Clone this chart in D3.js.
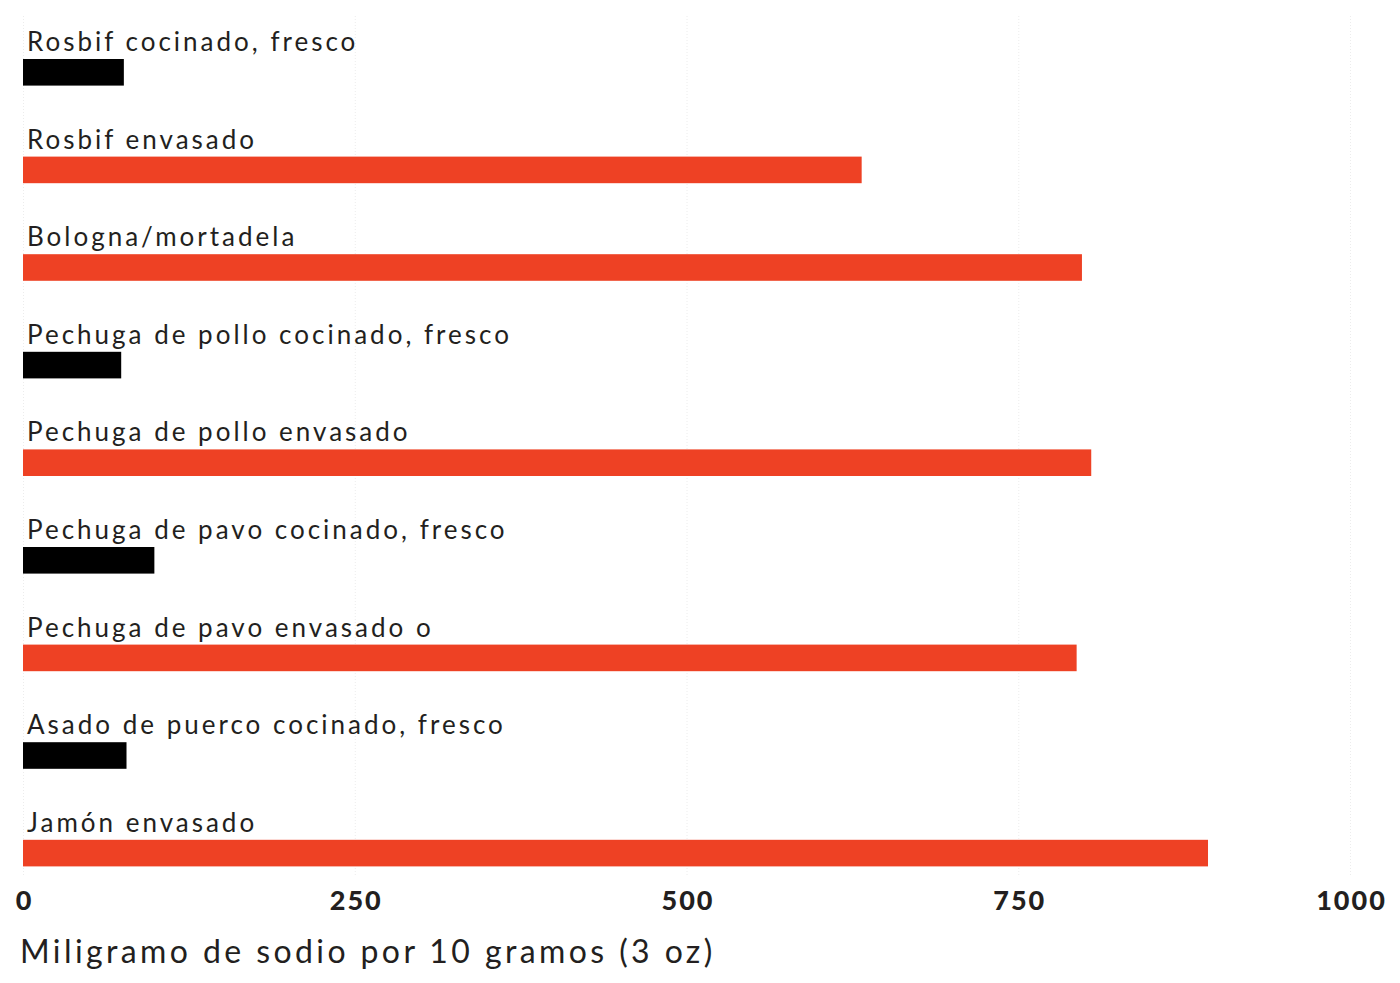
<!DOCTYPE html>
<html>
<head>
<meta charset="utf-8">
<script src="https://cdn.jsdelivr.net/npm/d3@7"></script>
<style>
  html, body { margin: 0; padding: 0; background: #fff; }
  svg { display: block; }
  .label { font-family: Lato, "Open Sans", sans-serif; font-size: 26px; fill: #231f20; letter-spacing: 3px; }
  .tick text { font-family: Lato, sans-serif; font-weight: 900; font-size: 27px; fill: #231f20; letter-spacing: 2px; }
  .title { font-family: Lato, "Open Sans", sans-serif; font-size: 32px; fill: #231f20; letter-spacing: 3.4px; }
</style>
</head>
<body>
<svg id="chart" width="1400" height="983"></svg>
<script>
// Sodium content of deli meats, fresh-cooked vs. packaged
const categories = [
  "Rosbif cocinado, fresco",
  "Rosbif envasado",
  "Bologna/mortadela",
  "Pechuga de pollo cocinado, fresco",
  "Pechuga de pollo envasado",
  "Pechuga de pavo cocinado, fresco",
  "Pechuga de pavo envasado o",
  "Asado de puerco cocinado, fresco",
  "Jamón envasado"
];
const sodium = [76, 632, 798, 74, 805, 99, 794, 78, 893];
const kinds = ["fresh", "packaged", "packaged", "fresh", "packaged", "fresh", "packaged", "fresh", "packaged"];
const tickValues = [0, 250, 500, 750, 1000];
const axisTitle = "Miligramo de sodio por 10 gramos (3 oz)";

const rows = categories.map((c, i) => ({ name: c, value: sodium[i], kind: kinds[i] }));

const svg = d3.select("#chart");

const x = d3.scaleLinear().domain([0, 1000]).range([23, 1350]);
const y = d3.scaleBand()
  .domain(categories)
  .range([59, 866.4])
  .paddingInner(0.7275)
  .paddingOuter(0);

const color = d3.scaleOrdinal()
  .domain(["fresh", "packaged"])
  .range(["#000000", "#ee4124"]);

// faint dotted gridlines
const grid = svg.append("g")
  .attr("transform", "translate(0,875)")
  .call(d3.axisTop(x).tickValues(tickValues).tickSize(860).tickFormat(""));
grid.select(".domain").remove();
grid.selectAll(".tick line")
  .attr("stroke", "#ececec")
  .attr("stroke-width", 1)
  .attr("stroke-dasharray", "1,2");

// bars
svg.append("g")
  .selectAll("rect")
  .data(rows)
  .join("rect")
  .attr("x", x(0))
  .attr("y", d => y(d.name))
  .attr("width", d => x(d.value) - x(0))
  .attr("height", y.bandwidth())
  .attr("fill", d => color(d.kind));

// category labels above each bar
svg.append("g")
  .selectAll("text")
  .data(rows)
  .join("text")
  .attr("class", "label")
  .attr("x", x(0) + 4)
  .attr("y", d => y(d.name) - 8)
  .text(d => d.name);

// x axis tick labels
const axis = svg.append("g")
  .attr("transform", "translate(0,880)")
  .call(d3.axisBottom(x).tickValues(tickValues).tickSize(0).tickPadding(0).tickFormat(d3.format("d")));
axis.select(".domain").remove();
axis.selectAll(".tick text").attr("dy", "0").attr("y", 30).attr("dx", "1px");

// axis title
svg.append("text")
  .attr("class", "title")
  .attr("x", 20)
  .attr("y", 963)
  .text(axisTitle);
</script>
</body>
</html>
